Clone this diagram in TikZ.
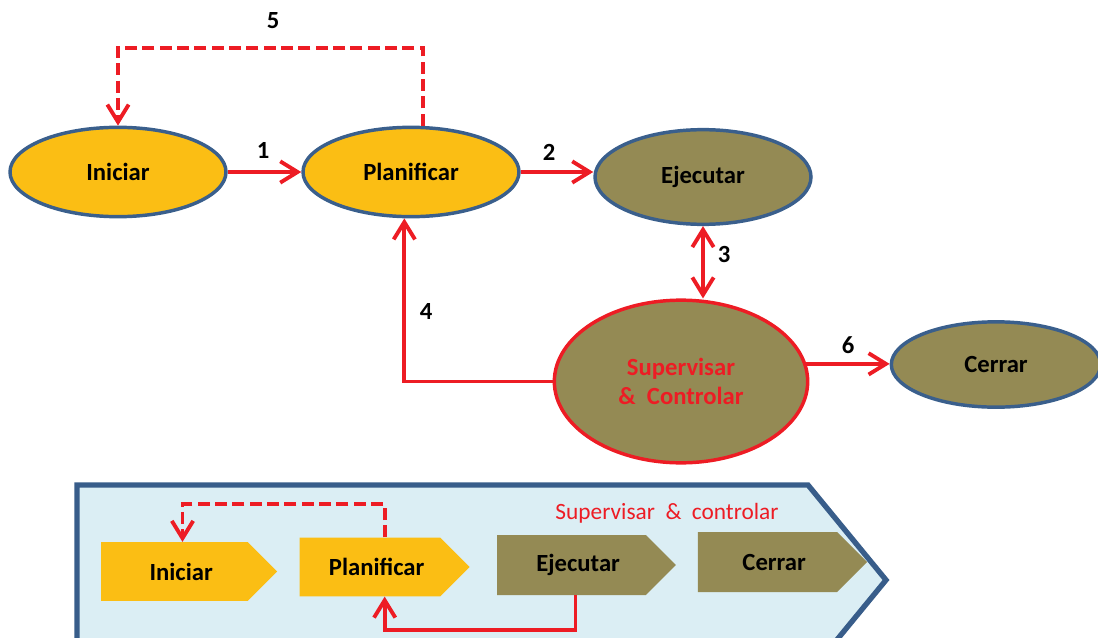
\documentclass[tikz,border=0pt]{standalone}
\usepackage{fontspec}
\setmainfont{Carlito}
\usetikzlibrary{arrows.meta,shapes.geometric,shapes.symbols}
\definecolor{phaseyellow}{RGB}{251,190,20}
\definecolor{phaseolive}{RGB}{148,138,84}
\definecolor{rimblue}{RGB}{58,95,140}
\definecolor{flowred}{RGB}{237,28,36}
\definecolor{panelblue}{RGB}{219,238,244}
\definecolor{panelrim}{RGB}{56,93,138}

\begin{document}
\begin{tikzpicture}[x=0.75pt,y=-0.75pt,
  every node/.style={font=\fontsize{18.5}{22}\selectfont\bfseries},
  phase/.style={ellipse,draw=rimblue,line width=2.6pt,inner sep=0pt,align=center},
  flow/.style={draw=flowred,line width=2.9pt,-{Straight Barb[length=13pt,width=16pt]}},
  loopback/.style={flow,dash pattern=on 9pt off 4pt},
  chev/.style={signal,signal to=east,signal pointer angle=90,inner sep=0pt,
               minimum height=44pt},
  numlbl/.style={font=\fontsize{18.5}{22}\selectfont\bfseries}]

% page frame in pixels
\useasboundingbox (0,0) rectangle (1098,638);

% process phases
\node[phase,fill=phaseyellow,minimum width=162pt,minimum height=67pt] (ini) at (118,172) {Iniciar};
\node[phase,fill=phaseyellow,minimum width=162pt,minimum height=67pt] (pla) at (411,172) {Planificar};
\node[phase,fill=phaseolive,minimum width=162pt,minimum height=71pt] (eje) at (703,177) {Ejecutar};
\node[phase,fill=phaseolive,draw=flowred,minimum width=190pt,minimum height=122pt,text=flowred]
  (sup) at (681,381.5) {Supervisar\\\&\ \ Controlar};
\node[phase,fill=phaseolive,minimum width=157pt,minimum height=64pt] (cer) at (996,364.5) {Cerrar};

% connectors
\draw[flow] (ini) -- (pla);
\draw[flow] (pla.east) -- (pla.east -| eje.west);
\draw[flow,{Straight Barb[length=13pt,width=16pt]}-{Straight Barb[length=13pt,width=16pt]}]
  (eje.south) -- (eje.south |- sup.north);
\draw[flow] (sup.west) -| ([xshift=-5pt]pla.south);
\draw[loopback] ([xshift=9pt]pla.north) -- ++(0,-78) -| (ini.north);
\draw[flow] (sup.8) -- (sup.8 -| cer.west);

% step numbers
\node[numlbl] (n1) at (263,150) {1};
\node[numlbl] (n2) at (549,152) {2};
\node[numlbl] (n3) at (724,254) {3};
\node[numlbl] (n4) at (426,311) {4};
\node[numlbl] (n5) at (273,21) {5};
\node[numlbl] (n6) at (848,345) {6};

% summary panel
\draw[panelrim,line width=4pt,fill=panelblue]
  (77,485) -- (808,485) -- (886,580) -- (808,675) -- (77,675) -- cycle;

\node[chev,fill=phaseyellow,minimum width=132pt] (ini2) at (174.5,571.5) {\kern10pt Iniciar};
\node[chev,fill=phaseyellow,minimum width=127.5pt] (pla2) at (370,567) {\kern10pt Planificar};
\node[chev,fill=phaseolive,minimum width=134pt,minimum height=45pt] (eje2) at (571.5,565) {\kern10pt Ejecutar};
\node[chev,fill=phaseolive,minimum width=127pt,minimum height=45pt] (cer2) at (767.5,562) {\kern10pt Cerrar};
\node[font=\fontsize{17.5}{21}\selectfont,text=flowred] (supnote) at (667,513)
  {Supervisar\ \ \&\ \ controlar};

\draw[loopback] ([xshift=11pt]pla2.north) -- ++(0,-33) -| ([xshift=6pt]ini2.north);
\draw[flow] ([xshift=3pt]eje2.south) -- ++(0,35) -| ([xshift=11pt]pla2.south);

\end{tikzpicture}
\end{document}
